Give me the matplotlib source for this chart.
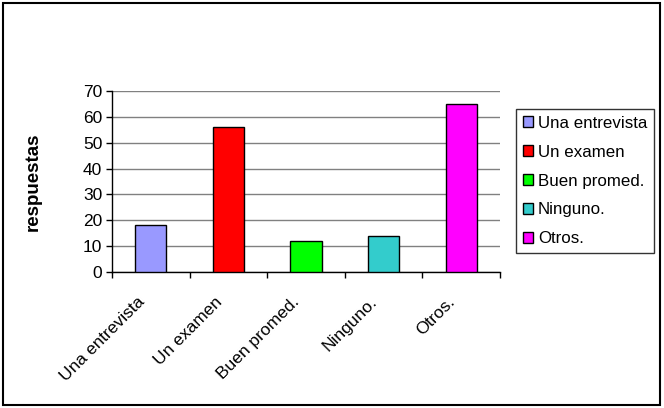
import matplotlib.pyplot as plt
from matplotlib.patches import Rectangle, Patch
from matplotlib.transforms import ScaledTranslation
import numpy as np

plt.rcParams['font.family'] = ['Liberation Sans', 'DejaVu Sans']

categorias = ["Una entrevista", "Un examen", "Buen promed.", "Ninguno.", "Otros."]
respuestas = [18, 56, 12, 14, 65]
colores = ["#9999FF", "#FF0000", "#00FF00", "#33CCCC", "#FF00FF"]

fig = plt.figure(figsize=(6.64, 4.08), dpi=100)
ax = fig.add_axes([0.1687, 0.3333, 0.5843, 0.4437])

x = np.arange(len(categorias))
ax.bar(x, respuestas, width=0.4, color=colores, edgecolor="black", linewidth=1, zorder=3)

ax.set_xlim(-0.5, len(categorias) - 0.5)
ax.set_ylim(0, 70)
ax.set_yticks(range(0, 71, 10))
ax.yaxis.grid(True, color="#808080", linewidth=1, zorder=0)
ax.tick_params(axis="y", labelsize=12.5, length=4, width=1, direction="out", pad=3)

ax.set_xticks(x)
ax.set_xticklabels(categorias, rotation=45, ha="right", rotation_mode="anchor", fontsize=12.5)
ax.tick_params(axis="x", which="major", length=0, pad=16)
ax.set_xticks(np.arange(-0.5, len(categorias)), minor=True)
ax.tick_params(axis="x", which="minor", length=4, width=1, direction="out")
shift = ScaledTranslation(-14 / 100, 0, fig.dpi_scale_trans)
for lbl in ax.get_xticklabels():
    lbl.set_transform(lbl.get_transform() + shift)

for s in ["top", "right"]:
    ax.spines[s].set_visible(False)
for s in ["left", "bottom"]:
    ax.spines[s].set_color("black")
    ax.spines[s].set_linewidth(1)

ax.set_ylabel("respuestas", fontsize=13.5, fontweight="bold", labelpad=30)

handles = [Patch(facecolor=c, edgecolor="black", linewidth=1) for c in colores]
leg = fig.legend(handles, categorias, loc="upper left", bbox_to_anchor=(0.777, 0.733),
                 bbox_transform=fig.transFigure, borderaxespad=0, fontsize=12.2,
                 handlelength=0.6, handleheight=0.6, handletextpad=0.3,
                 labelspacing=0.82, fancybox=False, borderpad=0.4)
leg.get_frame().set_edgecolor("black")
leg.get_frame().set_linewidth(1)

fig.patches.append(Rectangle((0.004, 0.008), 0.99, 0.985, transform=fig.transFigure,
                             fill=False, edgecolor="black", linewidth=1.5))

fig.savefig("out.png", dpi=100)
